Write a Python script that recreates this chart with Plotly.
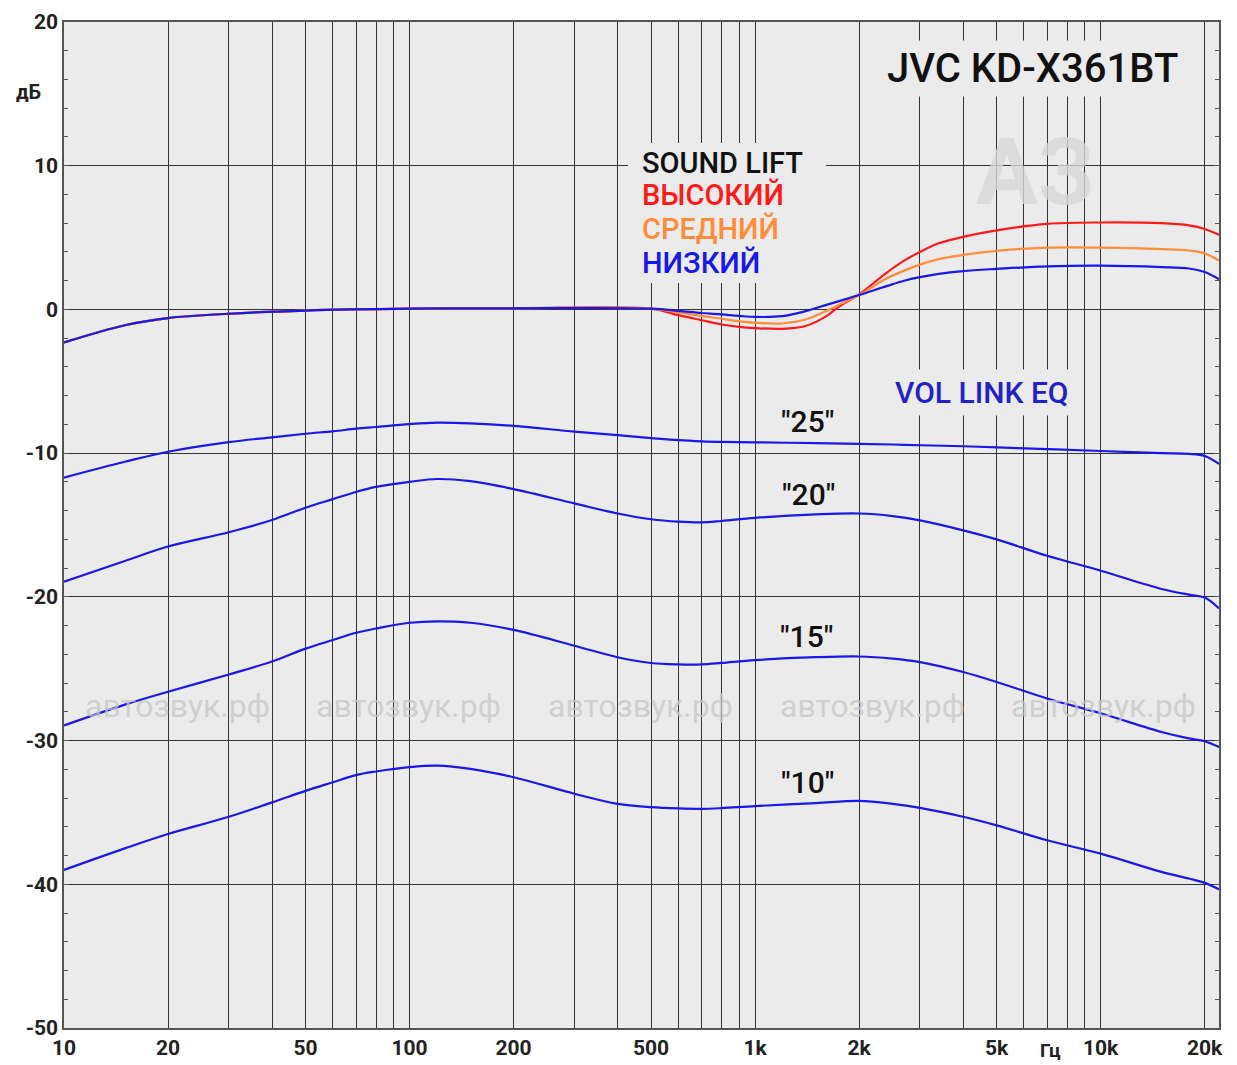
import plotly.graph_objects as go

# ---------------- data ----------------
freq_vl = [10, 15, 20, 30, 40, 50, 60, 70, 80, 100, 120, 150, 200, 300, 400, 500, 600, 700, 800,
           1000, 1500, 2000, 2500, 3000, 4000, 5000, 7000, 10000, 15000, 18000, 20000, 22000]
vol25 = [-11.7, -10.6, -9.9, -9.23, -8.9, -8.65, -8.48, -8.3, -8.18, -7.98, -7.88, -7.93, -8.1,
         -8.5, -8.75, -8.95, -9.1, -9.18, -9.22, -9.25, -9.3, -9.35, -9.4, -9.45, -9.52, -9.6,
         -9.72, -9.85, -10.0, -10.05, -10.2, -10.75]
vol20 = [-18.95, -17.5, -16.5, -15.5, -14.65, -13.8, -13.2, -12.7, -12.35, -12.0, -11.8, -11.95,
         -12.5, -13.5, -14.2, -14.6, -14.77, -14.82, -14.72, -14.5, -14.26, -14.2, -14.38,
         -14.68, -15.37, -16.0, -17.14, -18.18, -19.45, -19.85, -20.05, -20.8]
vol15 = [-28.95, -27.5, -26.6, -25.4, -24.5, -23.6, -23.0, -22.5, -22.2, -21.8, -21.7, -21.8,
         -22.3, -23.4, -24.2, -24.6, -24.7, -24.7, -24.6, -24.4, -24.2, -24.15, -24.3, -24.54,
         -25.23, -25.92, -27.07, -28.1, -29.4, -29.85, -30.05, -30.45]
vol10 = [-39.0, -37.5, -36.5, -35.3, -34.3, -33.5, -32.9, -32.4, -32.15, -31.85, -31.75, -31.97,
         -32.55, -33.7, -34.4, -34.63, -34.72, -34.75, -34.7, -34.56, -34.35, -34.2, -34.4,
         -34.68, -35.3, -35.9, -36.94, -37.87, -39.14, -39.6, -39.9, -40.35]

freq_sl = [10, 15, 20, 30, 50, 100, 200, 500, 600, 700, 800, 900, 1000, 1200, 1400, 1600, 1750,
           2000, 2400, 2700, 3000, 3400, 4000, 5000, 7000, 10000, 15000, 18000, 20000, 22000]
sl_high = [-2.3, -1.1, -0.6, -0.3, -0.08, 0.05, 0.08, 0.05, -0.4, -0.75, -1.05, -1.22, -1.3,
           -1.35, -1.15, -0.5, 0.2, 1.05, 2.55, 3.4, 4.0, 4.6, 5.05, 5.5, 5.95, 6.05, 6.0,
           5.85, 5.6, 5.2]
sl_mid = [-2.3, -1.1, -0.6, -0.3, -0.08, 0.05, 0.08, 0.05, -0.2, -0.45, -0.65, -0.82, -0.93,
          -0.98, -0.7, -0.12, 0.32, 1.0, 2.15, 2.7, 3.12, 3.5, 3.8, 4.08, 4.3, 4.3, 4.2, 4.1,
          3.9, 3.4]
sl_low = [-2.3, -1.1, -0.6, -0.3, -0.08, 0.05, 0.08, 0.05, -0.1, -0.25, -0.35, -0.45, -0.52,
          -0.47, -0.12, 0.3, 0.58, 1.0, 1.62, 2.0, 2.25, 2.48, 2.67, 2.82, 3.0, 3.05, 2.95, 2.85,
          2.6, 2.1]

grid_freqs = [10, 20, 30, 40, 50, 60, 70, 80, 90, 100, 200, 300, 400, 500, 600, 700, 800, 900,
              1000, 2000, 3000, 4000, 5000, 6000, 7000, 8000, 9000, 10000, 20000]
labels = {10: "10", 20: "20", 50: "50", 100: "100", 200: "200", 500: "500", 1000: "1k",
          2000: "2k", 5000: "5k", 10000: "10k", 20000: "20k"}
y_ticks = [20, 10, 0, -10, -20, -30, -40, -50]

# ---------------- style ----------------
BLUE = "#1818e8"
RED = "#ff1a1a"
ORANGE = "#ff8c3a"
FONT = "Roboto, Liberation Sans, sans-serif"

# page has an 8px body margin; target pixel positions in the screenshot
OFF = 8
W, H = 1237 - OFF, 1065 - OFF
L, R, T, B = 64, 1219, 22, 1028


def px(x):
    return (x - L) / (R - L)


def py(y):
    return (B - y) / (B - T)


fig = go.Figure()
for ys in (vol25, vol20, vol15, vol10):
    fig.add_trace(go.Scatter(x=freq_vl, y=ys, mode="lines",
                             line=dict(color=BLUE, width=2.2, shape="spline", smoothing=1.0),
                             showlegend=False, hoverinfo="skip"))
for ys, c in ((sl_high, RED), (sl_mid, ORANGE), (sl_low, BLUE)):
    fig.add_trace(go.Scatter(x=freq_sl, y=ys, mode="lines",
                             line=dict(color=c, width=2.2, shape="spline", smoothing=1.0),
                             showlegend=False, hoverinfo="skip"))


def note(x, y, text, font, **kw):
    d = dict(x=px(x), y=py(y), xref="paper", yref="paper", text=text, showarrow=False,
             xanchor="center", yanchor="middle", font=font)
    d.update(kw)
    return d


ann = []
# watermark text
for cx in (177, 408, 640, 872, 1103):
    ann.append(note(cx, 706, "автозвук.рф",
                    dict(family="Roboto, sans-serif", size=32, color="rgba(198,198,198,0.75)")))
ann.append(note(1035, 172, "<b>АЗ</b>",
                dict(family=FONT, size=92, color="rgba(215,215,215,0.8)")))

# title
ann.append(note(1032, 68, "JVC KD-X361BT",
                dict(family=FONT, size=40, color="#111111", weight=500),
                bgcolor="#ebebeb", borderpad=4))

# sound lift block background
fig.add_shape(type="rect", xref="paper", yref="paper", x0=px(628), x1=px(826),
              y0=py(283), y1=py(143), fillcolor="#ebebeb", line=dict(width=0), layer="above")
for txt, c, yy in (("SOUND LIFT", "#111111", 163), ("ВЫСОКИЙ", RED, 195),
                   ("СРЕДНИЙ", ORANGE, 229), ("НИЗКИЙ", BLUE, 263)):
    ann.append(note(640, yy, txt, dict(family=FONT, size=29, color=c, weight=500),
                    xanchor="left"))

ann.append(note(889, 392, "VOL LINK EQ", dict(family=FONT, size=30, color="#2222c4", weight=500),
                xanchor="left", bgcolor="#ebebeb", borderpad=5))
for txt, xx, yy in (('"25"', 807, 422), ('"20"', 808, 494), ('"15"', 806, 636),
                    ('"10"', 807, 782)):
    ann.append(note(xx, yy, txt, dict(family=FONT, size=30, color="#111111", weight=500)))

ann.append(note(28, 92, "дБ", dict(family=FONT, size=20, color="#222222", weight="bold")))
ann.append(note(1050, 1050, "Гц", dict(family=FONT, size=19, color="#222222", weight="bold")))

fig.update_layout(
    width=W, height=H,
    margin=dict(l=L - OFF, r=W - (R - OFF), t=T - OFF, b=H - (B - OFF), autoexpand=False),
    paper_bgcolor="white", plot_bgcolor="#ebebeb",
    annotations=ann,
    xaxis=dict(type="log", range=[1, 4.3425],
               tickvals=grid_freqs,
               ticktext=[labels.get(f, "") for f in grid_freqs],
               showgrid=True, gridcolor="#333333", gridwidth=1.2,
               showline=True, linecolor="#555555", linewidth=1.5, mirror=True,
               ticks="", zeroline=False,
               tickfont=dict(family=FONT, size=21, color="#222222", weight="bold")),
    yaxis=dict(range=[-50, 20], tickvals=y_ticks,
               ticktext=[str(v) for v in y_ticks],
               showgrid=True, gridcolor="#333333", gridwidth=1.2,
               showline=True, linecolor="#555555", linewidth=1.5, mirror="allticks",
               ticks="inside", ticklen=5, tickcolor="#555555", zeroline=False,
               minor=dict(dtick=2, ticks="inside", ticklen=4, tickcolor="#555555",
                          showgrid=False),
               tickfont=dict(family=FONT, size=21, color="#222222", weight="bold")),
)

fig.write_html("out.html")
